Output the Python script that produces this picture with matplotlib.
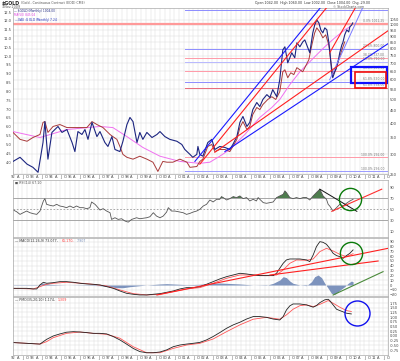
import matplotlib
matplotlib.use("Agg")
import matplotlib.pyplot as plt
from matplotlib.patches import Rectangle
from matplotlib.ticker import FixedLocator, NullLocator

# ---- data (x = decimal year) ----
navy_t = [1992.00, 1992.37, 1992.74, 1993.05, 1993.32, 1993.58, 1993.68, 1993.84, 1994.05, 1994.37,
          1994.58, 1994.84, 1995.11, 1995.26, 1995.42, 1995.63, 1995.79, 1995.95, 1996.16, 1996.42,
          1996.58, 1996.84, 1997.00, 1997.21, 1997.37, 1997.63, 1997.79, 1998.00, 1998.16, 1998.32,
          1998.53, 1998.68, 1998.84, 1999.05, 1999.32, 1999.58, 1999.74, 2000.00, 2000.26, 2000.63,
          2000.89, 2001.05, 2001.32, 2001.47, 2001.68, 2001.74, 2001.84, 2002.00, 2002.26, 2002.47,
          2002.63, 2002.89, 2003.16, 2003.42, 2003.58, 2003.79, 2003.95, 2004.11, 2004.32, 2004.47,
          2004.63, 2004.84, 2005.00, 2005.16, 2005.37, 2005.53, 2005.68, 2005.89, 2006.05, 2006.21,
          2006.32, 2006.47, 2006.58, 2006.68, 2006.84, 2006.95, 2007.11, 2007.26, 2007.37, 2007.53,
          2007.63, 2007.79, 2007.89, 2008.00, 2008.11, 2008.21, 2008.32, 2008.42, 2008.53, 2008.63,
          2008.68, 2008.79, 2008.84, 2008.95, 2009.05, 2009.16, 2009.21, 2009.32, 2009.37, 2009.47,
          2009.58, 2009.68, 2009.74, 2009.84, 2009.89]
navy_v = [281, 292, 274, 266, 254, 335, 407, 287, 368, 389,
          368, 378, 335, 308, 371, 361, 378, 345, 404, 354,
          371, 335, 323, 354, 314, 308, 339, 396, 423, 407,
          335, 368, 345, 368, 351, 361, 371, 354, 345, 339,
          329, 314, 300, 292, 300, 323, 300, 295, 335, 345,
          314, 323, 320, 314, 329, 354, 404, 427, 389, 404,
          455, 486, 468, 500, 523, 509, 548, 513, 601, 793,
          816, 703, 737, 772, 737, 847, 816, 854, 870, 808,
          772, 929, 1000, 1047, 1019, 955, 929, 973, 955, 854,
          793, 641, 612, 647, 678, 737, 772, 831, 847, 912,
          955, 937, 982, 1000, 1019]

red_t = [1992.00, 1992.37, 1992.74, 1993.05, 1993.42, 1993.58, 1993.68, 1993.84, 1994.11, 1994.47,
         1994.84, 1995.16, 1995.53, 1995.89, 1996.16, 1996.42, 1996.74, 1997.11, 1997.26, 1997.47,
         1997.63, 1997.79, 1998.00, 1998.32, 1998.68, 1999.05, 1999.37, 1999.63, 1999.89, 2000.11,
         2000.42, 2000.79, 2001.16, 2001.32, 2001.68, 2001.84, 2002.00, 2002.26, 2002.47, 2002.63,
         2002.89, 2003.16, 2003.42, 2003.58, 2003.79, 2003.95, 2004.11, 2004.32, 2004.47, 2004.63,
         2004.84, 2005.00, 2005.16, 2005.42, 2005.63, 2005.84, 2006.05, 2006.21, 2006.32, 2006.47,
         2006.63, 2006.79, 2006.95, 2007.11, 2007.26, 2007.42, 2007.58, 2007.74, 2007.89, 2008.00,
         2008.16, 2008.32, 2008.47, 2008.63, 2008.74, 2008.84, 2009.00, 2009.16, 2009.32, 2009.47]
red_v = [368, 345, 339, 351, 361, 404, 407, 368, 389, 396,
         385, 385, 385, 385, 407, 396, 385, 361, 354, 345,
         323, 300, 292, 287, 295, 287, 279, 256, 281, 279,
         279, 287, 279, 266, 268, 281, 287, 323, 329, 308,
         314, 314, 308, 323, 345, 385, 407, 378, 389, 435,
         464, 455, 477, 500, 513, 500, 538, 647, 659, 612,
         641, 630, 672, 659, 647, 684, 723, 831, 929, 973,
         937, 887, 912, 831, 710, 630, 659, 723, 793, 854]

ma_t = [1992.0, 1993.42, 1994.84, 1996.58, 1997.26, 1998.0, 1998.84, 1999.74, 2000.79, 2001.84,
        2002.37, 2002.89, 2003.42, 2004.21, 2005.0, 2005.63, 2006.05, 2006.58, 2007.11, 2007.63,
        2008.0, 2008.42, 2008.95, 2009.47, 2009.74]
ma_v = [371, 351, 378, 389, 385, 354, 320, 295, 281, 276,
        279, 295, 314, 361, 423, 464, 500, 574, 647, 710,
        758, 816, 887, 955, 982]

rsi_t = [1992.02, 1992.19, 1992.37, 1992.54, 1992.72, 1992.89, 1993.07, 1993.25, 1993.42, 1993.60,
         1993.68, 1993.77, 1993.95, 1994.12, 1994.30, 1994.47, 1994.65, 1994.82, 1995.00, 1995.18,
         1995.35, 1995.53, 1995.70, 1995.88, 1996.05, 1996.14, 1996.32, 1996.40, 1996.58, 1996.75,
         1996.93, 1997.11, 1997.19, 1997.37, 1997.54, 1997.72, 1997.90, 1998.07, 1998.25, 1998.51,
         1998.68, 1999.04, 1999.21, 1999.39, 1999.56, 1999.74, 1999.91, 2000.09, 2000.18, 2000.35,
         2000.53, 2000.79, 2000.96, 2001.14, 2001.32, 2001.49, 2001.67, 2001.84, 2002.02, 2002.19,
         2002.37, 2002.54, 2002.72, 2002.89, 2002.98, 2003.07, 2003.25, 2003.42, 2003.60, 2003.77,
         2003.95, 2004.12, 2004.30, 2004.47, 2004.65, 2004.82, 2004.91, 2005.00, 2005.18, 2005.35,
         2005.53, 2005.70, 2005.88, 2006.05, 2006.23, 2006.32, 2006.40, 2006.58, 2006.75, 2006.93,
         2007.11, 2007.28, 2007.46, 2007.63, 2007.81, 2007.98, 2008.16, 2008.33, 2008.51, 2008.60,
         2008.68, 2008.86, 2009.04, 2009.21, 2009.39, 2009.56, 2009.74, 2009.91]
rsi_v = [48.7, 45.7, 40.9, 43.9, 46.9, 43.9, 42.1, 40.9, 46.9, 65.1,
         69.3, 59.0, 57.2, 56.0, 59.0, 56.0, 54.8, 53.0, 56.0, 53.0,
         56.0, 53.0, 53.0, 51.2, 53.0, 63.3, 59.0, 56.0, 48.7, 51.2,
         46.9, 43.9, 31.8, 34.8, 31.8, 33.0, 28.8, 26.9, 31.8, 34.8,
         33.0, 34.8, 36.6, 43.9, 37.8, 34.8, 37.8, 45.1, 53.0, 46.9,
         46.9, 45.1, 43.9, 40.9, 42.7, 45.1, 46.9, 50.0, 56.0, 59.0,
         66.9, 63.3, 68.1, 68.1, 73.0, 71.2, 66.9, 69.3, 73.0, 71.2,
         74.2, 69.3, 71.2, 65.1, 68.1, 65.1, 71.2, 68.1, 62.1, 60.9,
         62.1, 63.3, 71.2, 74.2, 77.2, 83.3, 80.3, 71.2, 69.3, 71.2,
         69.3, 71.2, 71.2, 66.9, 74.2, 80.3, 86.3, 74.2, 68.1, 59.0,
         56.0, 46.9, 53.0, 59.0, 56.0, 60.9, 65.1, 68.1]

macd_t = [1992.02, 1992.37, 1992.72, 1993.07, 1993.25, 1993.42, 1993.60, 1993.77, 1994.12, 1994.47,
          1994.82, 1995.18, 1995.53, 1995.88, 1996.23, 1996.58, 1996.93, 1997.28, 1997.63, 1997.98,
          1998.33, 1998.68, 1999.04, 1999.39, 1999.74, 2000.09, 2000.44, 2000.79, 2001.14, 2001.49,
          2001.84, 2002.19, 2002.54, 2002.89, 2003.25, 2003.60, 2003.95, 2004.30, 2004.65, 2005.00,
          2005.35, 2005.70, 2005.88, 2006.05, 2006.23, 2006.40, 2006.58, 2006.75, 2007.11, 2007.46,
          2007.63, 2007.81, 2007.98, 2008.16, 2008.33, 2008.51, 2008.68, 2008.86, 2009.04, 2009.21,
          2009.39, 2009.56, 2009.74, 2009.91]
macd_v = [-6.9, -6.9, -6.9, -8.2, -8.2, 0.1, 5.7, 3.6, 4.9, 7.0,
          7.0, 5.7, 3.6, 2.2, 1.5, 0.1, -3.4, -6.9, -12.4, -17.3,
          -19.3, -20.7, -20.7, -19.3, -18.0, -15.2, -12.4, -8.2, -5.5, -5.5,
          -3.4, 1.5, 7.0, 12.6, 17.4, 20.9, 24.4, 23.0, 20.9, 19.5,
          19.5, 19.5, 24.4, 34.8, 45.2, 52.2, 54.2, 54.2, 54.2, 52.2,
          48.7, 62.6, 79.9, 90.3, 88.9, 84.8, 76.4, 66.0, 61.2, 59.1,
          55.6, 61.2, 66.0, 73.1]
sig_t = [1992.02, 1993.07, 1993.42, 1993.77, 1994.12, 1994.82, 1995.88, 1996.93, 1997.63, 1998.33,
         1999.04, 1999.74, 2000.44, 2001.14, 2001.84, 2002.54, 2003.25, 2003.95, 2004.65, 2005.35,
         2005.88, 2006.23, 2006.58, 2006.93, 2007.46, 2007.81, 2008.16, 2008.51, 2008.86, 2009.21,
         2009.56, 2009.91]
sig_v = [-6.9, -8.2, -3.4, 1.5, 3.6, 5.7, 2.9, -2.0, -10.3, -18.0,
         -20.7, -19.3, -13.8, -8.2, -5.5, 3.6, 14.0, 20.9, 20.9, 19.5,
         20.9, 31.3, 45.2, 52.2, 51.5, 54.2, 69.5, 76.4, 70.9, 63.9,
         59.1, 65.2]
hist_t = [1992.02, 1993.25, 1993.42, 1993.60, 1993.77, 1993.95, 1994.30, 1994.82, 1995.88, 1996.58,
          1997.11, 1997.46, 1997.81, 1998.16, 1998.51, 1999.04, 1999.74, 2000.09, 2000.44, 2001.14,
          2001.84, 2002.19, 2002.89, 2003.60, 2003.95, 2004.65, 2005.35, 2005.70, 2006.05, 2006.23,
          2006.40, 2006.58, 2006.75, 2007.11, 2007.46, 2007.72, 2007.89, 2008.07, 2008.25, 2008.42,
          2008.60, 2008.77, 2008.95, 2009.12, 2009.30, 2009.47, 2009.65, 2009.82, 2009.91]
hist_v = [-0.7, -0.7, 2.1, 4.2, 2.8, 1.4, 0.7, 0.0, -0.7, -1.4,
          -3.5, -5.6, -5.6, -3.5, -2.1, 0.0, 2.1, 2.8, 2.1, 0.7,
          1.4, 2.8, 4.2, 2.8, 2.1, 0.0, -0.7, 3.5, 10.4, 17.4,
          15.3, 8.3, 3.5, 0.0, -1.4, 6.9, 17.4, 20.8, 15.3, 3.5,
          -6.9, -17.4, -19.4, -13.9, -8.3, -3.5, 3.5, 8.3, 6.9]

pmo_t = [1992.02, 1992.72, 1993.42, 1993.77, 1994.12, 1994.47, 1994.82, 1995.18, 1995.53, 1995.88,
         1996.23, 1996.58, 1996.93, 1997.28, 1997.63, 1997.98, 1998.33, 1998.68, 1999.04, 1999.39,
         1999.74, 2000.09, 2000.44, 2000.79, 2001.14, 2001.49, 2001.84, 2002.19, 2002.54, 2002.89,
         2003.25, 2003.60, 2003.95, 2004.30, 2004.65, 2005.00, 2005.35, 2005.70, 2006.05, 2006.23,
         2006.40, 2006.58, 2006.75, 2007.11, 2007.46, 2007.81, 2007.98, 2008.16, 2008.42, 2008.60,
         2008.68, 2008.86, 2009.04, 2009.21, 2009.39, 2009.56, 2009.82]
pmo_v = [-0.35, -0.39, -0.43, -0.18, 0.00, 0.11, 0.20, 0.23, 0.21, 0.18,
         0.14, 0.14, 0.11, -0.03, -0.21, -0.43, -0.66, -0.83, -0.89, -0.89,
         -0.85, -0.74, -0.57, -0.48, -0.43, -0.39, -0.34, -0.21, -0.03, 0.18,
         0.41, 0.59, 0.73, 0.90, 1.03, 1.03, 0.99, 0.90, 0.85, 1.03,
         1.38, 1.60, 1.70, 1.70, 1.65, 1.53, 1.61, 1.77, 1.92, 1.95,
         1.88, 1.65, 1.42, 1.35, 1.28, 1.21, 1.17]
pms_t = [1992.02, 1993.42, 1993.77, 1994.12, 1994.82, 1995.53, 1996.23, 1996.93, 1997.63, 1998.33,
         1999.04, 1999.74, 2000.44, 2001.14, 2001.84, 2002.54, 2003.25, 2003.95, 2004.65, 2005.35,
         2006.05, 2006.40, 2006.75, 2007.11, 2007.46, 2007.81, 2008.16, 2008.60, 2008.86, 2009.21,
         2009.56, 2009.82]
pms_v = [-0.35, -0.43, -0.30, -0.09, 0.14, 0.21, 0.14, 0.09, -0.12, -0.57,
         -0.89, -0.89, -0.66, -0.48, -0.39, -0.16, 0.23, 0.59, 0.89, 0.99,
         0.89, 1.12, 1.42, 1.61, 1.65, 1.56, 1.68, 1.88, 1.74, 1.53,
         1.35, 1.30]

# drawn annotations (year, value)
blue_lines = [[(2001.58, 281), (2008.26, 1192)], [(2003.16, 308), (2011.74, 839)]]
lightblue_lines = [[(2008.68, 601), (2010.53, 1226)]]
red_lines = [[(2001.84, 274), (2008.84, 1260)], [(2002.63, 306), (2011.74, 946)],
             [(2008.68, 772), (2010.26, 1260)]]
fib_start = 2001.05
fib_prices = [1149, 800, 737, 710, 653, 590, 558, 292, 256]
fib_colors = ['#8c8cff', '#8c8cff', '#ff9aa8', '#b9b9ff', '#ff9aa8', '#8c8cff', '#e86a7a', '#ff9aa8', '#9a9aff']
fib_labels = ['', '23.6% 800.00', '38.2% 737.00', '50.0% 710.00', '61.8% 653.00',
              '61.8% 590.00', '61.8% 558.00', '100.0% 292.00', '100.0% 256.00']
high_level = 1011.25

price_ticks = [250, 300, 350, 400, 450, 500, 550, 600, 650, 700, 750, 800, 850, 900, 950, 1000, 1050]
left_ticks = [4.0 + 0.5 * i for i in range(18)]
years = list(range(1992, 2012))

W, H = 400, 361
fig = plt.figure(figsize=(W / 100, H / 100), dpi=100)


def rect(top, bottom, left=13, right=388):
    return [left / W, 1 - bottom / H, (right - left) / W, (bottom - top) / H]


FS = 2.6
GRID = '#dcdcdc'
xticks = [y + q for y in years for q in (0, 0.25, 0.5, 0.75)]
xlabels = [f"{y % 100:02d}" if q == 0 else m for y in years for q, m in zip((0, .25, .5, .75), ('', 'A', 'J', 'O'))]


def style(ax, labels=False):
    ax.set_xlim(1992.0, 2011.74)
    ax.set_xticks(xticks)
    if labels:
        ax.set_xticklabels(xlabels, fontsize=FS, color='#444')
    else:
        ax.set_xticklabels([])
    ax.tick_params(length=0, pad=1)
    ax.yaxis.tick_right()
    ax.tick_params(axis='y', labelsize=FS, colors='#444', pad=1)
    ax.grid(True, color=GRID, lw=0.35)
    ax.set_axisbelow(True)
    for s in ax.spines.values():
        s.set_color('#aaaaaa')
        s.set_linewidth(0.5)


# ---- main price panel ----
ax = fig.add_axes(rect(8, 174))
axl = ax.twinx()
axl.set_ylim(3.32, 12.73)
axl.yaxis.tick_left()
axl.set_yticks(left_ticks)
axl.set_yticklabels([f"{v:.1f}" for v in left_ticks])
axl.tick_params(axis='y', labelsize=FS, colors='#444', pad=1, length=0)
for s in axl.spines.values():
    s.set_visible(False)

ax.set_yscale('log')
ax.set_ylim(251.7, 1170.5)
ax.yaxis.set_major_locator(FixedLocator(price_ticks))
ax.yaxis.set_minor_locator(NullLocator())
ax.set_yticks(price_ticks)
ax.set_yticklabels([str(p) for p in price_ticks])
style(ax, labels=True)
ax.yaxis.tick_right()
ax.tick_params(axis='y', labelleft=False, labelright=True)

ax.plot([1992.0, 2011.74], [high_level, high_level], color='#ff9a9a', lw=1.6, zorder=1)
for p, c, lab in zip(fib_prices, fib_colors, fib_labels):
    ax.plot([fib_start, 2011.74], [p, p], color=c, lw=0.7, zorder=1)
    if lab:
        ax.text(2011.55, p * 1.004, lab, fontsize=2.2, color='#777', ha='right', va='bottom')
ax.text(2011.55, high_level * 1.004, '0.0% 1011.25', fontsize=2.2, color='#777', ha='right', va='bottom')

ax.plot(ma_t, ma_v, color='#f070f0', lw=0.7, zorder=3)
ax.plot(red_t, red_v, color='#a83a3a', lw=0.7, zorder=4)
ax.plot(navy_t, navy_v, color='#1c2580', lw=0.8, zorder=5)

for seg in blue_lines:
    ax.plot(*zip(*seg), color='#1a1aff', lw=0.8, zorder=6)
for seg in lightblue_lines:
    ax.plot(*zip(*seg), color='#7a7aff', lw=0.7, zorder=6)
for seg in red_lines:
    ax.plot(*zip(*seg), color='#ff2020', lw=0.8, zorder=6)

ax.add_patch(Rectangle((2009.79, 584), 1.89, 94, fill=False, ec='#1010ff', lw=1.6, zorder=7))
ax.add_patch(Rectangle((2010.0, 558), 1.63, 89, fill=False, ec='#ee1010', lw=1.2, zorder=7))

# ---- RSI ----
ar = fig.add_axes(rect(180, 237))
ar.set_ylim(0, 103)
ar.set_yticks([10, 30, 50, 70, 90])
style(ar)
ar.grid(False, axis='y')
for lv, ls in ((70, '-'), (30, '-'), (50, (0, (2, 2)))):
    ar.axhline(lv, color='#999', lw=0.6, ls=ls)
ar.fill_between(rsi_t, rsi_v, 70, where=[v > 70 for v in rsi_v], interpolate=True, color='#4e7d4e', lw=0)
ar.plot(rsi_t, rsi_v, color='#555', lw=0.6)
ar.plot([2008.16, 2010.11], [86.4, 46.4], color='#111', lw=0.7)
ar.plot([2008.79, 2011.42], [46.4, 86.4], color='#ff3030', lw=0.8)
ar.plot([2009.74], [68.2], 'o', ms=16, mfc='none', mec='#0a7a0a', mew=1.0)

# ---- MACD ----
am = fig.add_axes(rect(238, 296))
am.set_ylim(-22.9, 97.9)
am.set_yticks(list(range(-20, 100, 10)))
style(am)
am.fill_between(hist_t, hist_v, 0, color='#7d93bd', lw=0)
am.plot(sig_t, sig_v, color='#ff5555', lw=0.6)
am.plot(macd_t, macd_v, color='#222', lw=0.6)
am.plot([1999.58, 2011.74], [-20.8, 76.3], color='#ff2020', lw=0.8)
am.plot([2005.53, 2011.23], [20.8, 50.0], color='#ff2020', lw=0.8)
am.plot([2008.86, 2011.49], [-20.8, 27.8], color='#4a8a3a', lw=0.8)
am.plot([2009.82], [66.0], 'o', ms=16, mfc='none', mec='#0a7a0a', mew=1.0)

# ---- PMO ----
ap = fig.add_axes(rect(297, 355))
ap.set_ylim(-1.01, 2.07)
pt = [-0.75 + 0.25 * i for i in range(11)]
ap.set_yticks(pt)
ap.set_yticklabels([f"{v:.2f}" for v in pt])
style(ap, labels=True)
ap.plot(pms_t, pms_v, color='#ff5555', lw=0.6)
ap.plot(pmo_t, pmo_v, color='#222', lw=0.6)
ap.plot([2010.11], [1.22], 'o', ms=18, mfc='none', mec='#1010ee', mew=1.0)

# ---- texts ----
def ftext(px, py, s, **kw):
    fig.text(px / W, 1 - py / H, s, va='center', **kw)


ftext(2, 3, '$GOLD', fontsize=3.4, weight='bold', color='#222')
ftext(21, 3, '(Gold - Continuous Contract (EOD) CME)', fontsize=2.3, color='#555')
ftext(2, 7.5, '3-Nov-2009', fontsize=2.3, color='#555')
ftext(14, 11, '\u2014 $GOLD (Monthly) 1004.00', fontsize=2.1, color='#1c2580')
ftext(14, 15.5, 'MA(50) 845.04', fontsize=2.1, color='#e040e0')
ftext(14, 20, '\u2014 $XAU:$GOLD (Monthly) 7.24', fontsize=2.1, color='#2030c0')
ftext(255, 3, 'Open 1042.00  High 1060.00  Low 1002.00  Close 1004.00  Chg -29.00', fontsize=2.3, color='#333')
ftext(333, 7, '\u00a9 StockCharts.com', fontsize=2.3, color='#555')
ftext(15, 183, '\u25a0 RSI(14) 67.10', fontsize=2.3, color='#555')
ftext(15, 240.5, '\u2014 MACD(12,26,9) 73.077,', fontsize=2.3, color='#333')
ftext(62, 240.5, '65.170,', fontsize=2.3, color='#ff4040')
ftext(77, 240.5, '7.907', fontsize=2.3, color='#7d93bd')
ftext(15, 300, '\u2014 PMO(35,20,10) 1.174,', fontsize=2.3, color='#333')
ftext(58, 300, '1.309', fontsize=2.3, color='#ff4040')

fig.savefig('out.png', dpi=100)
